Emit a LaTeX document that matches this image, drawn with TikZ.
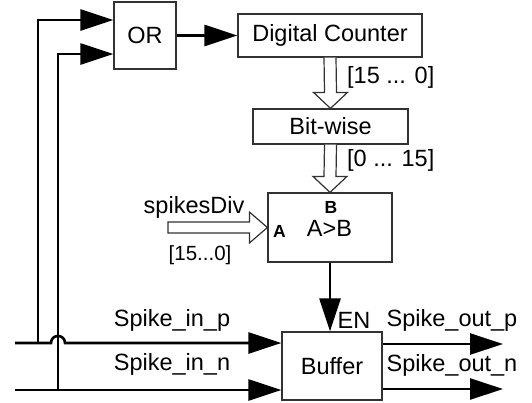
\documentclass[tikz,border=0pt]{standalone}
\usepackage{fontspec}
\setmainfont{Liberation Sans}
\usetikzlibrary{arrows.meta, positioning, calc}
\definecolor{boxline}{RGB}{50,50,50}

\begin{document}
\begin{tikzpicture}[
    x=1pt, y=-1pt,
    box/.style={rectangle, draw=boxline, line width=1.2pt, inner sep=0pt, font=\fontsize{23.5}{28}\selectfont},
    lbl/.style={inner sep=0pt, font=\fontsize{23.5}{28}\selectfont},
    port/.style={inner sep=0pt, font=\fontsize{17.5}{21}\selectfont\bfseries},
    arrow/.style={-{Triangle[length=33pt, width=21pt]}, line width=2.6pt},
    hollow/.style={draw=boxline, line width=1.2pt, fill=white, line join=miter}
]
\useasboundingbox (0,0) rectangle (532,402);

\node[box, minimum width=62pt, minimum height=67pt] (or) at (145,35.5) {OR};
\node[box, minimum width=184pt, minimum height=43pt] (counter) at (330,35.5) {Digital Counter};
\node[box, minimum width=155pt, minimum height=35pt] (bitwise) at (330.5,126.5) {Bit-wise};
\node[box, minimum width=124pt, minimum height=69pt] (cmp) at (330,227.5) {};
\node[box, minimum width=100pt, minimum height=68pt] (buffer) at (332,366) {Buffer};

% comparator inside
\node[port] (portb) at (331,207.5) {B};
\node[port] (porta) at (279.5,231) {A};
\node[lbl] (gt) at (329.5,228.5) {A>B};

% bus arrows
\draw[hollow] ($(counter.south)+(-6,0)$) -- ($(bitwise.north)+(-6,-16)$) -- ($(bitwise.north)+(-17,-16)$) -- (bitwise.north) -- ($(bitwise.north)+(17,-16)$) -- ($(bitwise.north)+(6,-16)$) -- ($(counter.south)+(6,0)$);
\draw[hollow] ($(bitwise.south)+(-6,0)$) -- ($(cmp.north)+(-6,-16)$) -- ($(cmp.north)+(-17,-16)$) -- (cmp.north) -- ($(cmp.north)+(17,-16)$) -- ($(cmp.north)+(6,-16)$) -- ($(bitwise.south)+(6,0)$);
\coordinate (divtail) at (168,227.5);
\draw[hollow] ($(divtail)+(0,-5.5)$) -- ($(cmp.west)+(-18,-5.5)$) -- ($(cmp.west)+(-18,-15.5)$) -- (cmp.west) -- ($(cmp.west)+(-18,15.5)$) -- ($(cmp.west)+(-18,5.5)$) -- ($(divtail)+(0,5.5)$) -- cycle;

\node[lbl, anchor=west] (cntbits) at (347,77) {[15 ... 0]};
\node[lbl, anchor=west] (bwbits) at (347,160) {[0 ... 15]};
\node[lbl] (divname) at (194,207) {spikesDiv};
\node[lbl, font=\fontsize{20.5}{24}\selectfont] (divbits) at (200,255) {[15...0]};

% control arrows
\draw[arrow] (or) -- (counter);
\draw[arrow] (cmp.south) -- (cmp.south |- buffer.north);
\node[lbl] (en) at (354,320) {EN};

% spike inputs
\coordinate (pinp) at (15,343);
\coordinate (pinn) at (15,390);
\coordinate (ptap) at (38,343);
\coordinate (ntap) at (58,390);
\draw[arrow] (pinp) -- ($(pinp -| ntap)+(-7,0)$) .. controls +(0,-9.3) and +(0,-9.3) .. ($(pinp -| ntap)+(7,0)$) -- (pinp -| buffer.west);
\draw[arrow] (pinn) -- (pinn -| buffer.west);
\draw[arrow] (ptap) |- ($(or.west)+(0,-15.5)$);
\draw[arrow] (ntap) |- ($(or.west)+(0,18.5)$);
\node[lbl] (inp) at (172,320) {Spike\_in\_p};
\node[lbl] (inn) at (172,364) {Spike\_in\_n};

% spike outputs
\coordinate (poutp) at (503,344);
\coordinate (poutn) at (503,389);
\draw[arrow] (buffer.east |- poutp) -- (poutp);
\draw[arrow] (buffer.east |- poutn) -- (poutn);
\node[lbl] (outp) at (452,320) {Spike\_out\_p};
\node[lbl] (outn) at (452,365) {Spike\_out\_n};
\end{tikzpicture}
\end{document}
